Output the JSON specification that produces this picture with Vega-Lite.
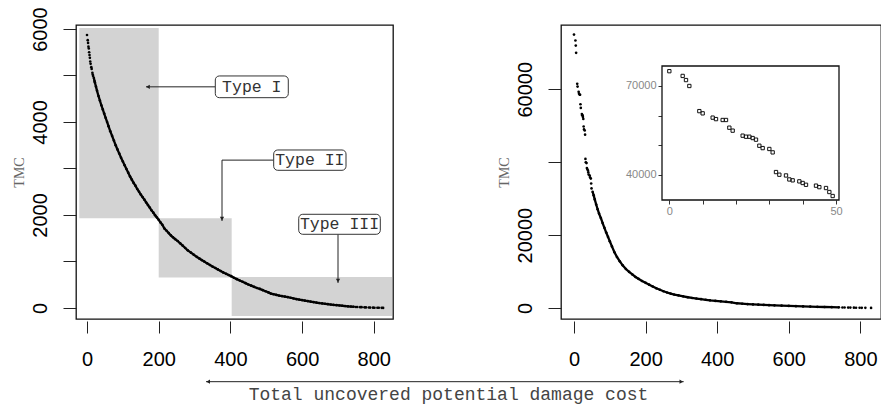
{
  "$schema": "https://vega.github.io/schema/vega-lite/v6.json",
  "background": "white",
  "padding": {"left": 11, "top": 6, "right": 0, "bottom": 0},
  "config": {
    "view": {"stroke": "#111", "strokeWidth": 1.3},
    "axis": {
      "grid": false, "domain": false, "labelFlush": false, "labelOverlap": false,
      "labelFont": "Liberation Sans", "labelFontSize": 20, "labelColor": "#000",
      "tickColor": "#222", "tickWidth": 1,
      "titleFont": "Liberation Serif", "titleFontSize": 14, "titleFontWeight": "normal", "titleColor": "#666"
    }
  },
  "datasets": {
    "left": [
      {"x":0,"y":5870},{"x":2,"y":5760},{"x":3,"y":5700},{"x":4,"y":5620},{"x":5,"y":5580},{"x":6,"y":5500},{"x":7,"y":5440},{"x":8,"y":5380},{"x":9,"y":5300},{"x":10,"y":5250},{"x":12,"y":5180},{"x":13,"y":5140},{"x":15,"y":5060},{"x":16,"y":5020},{"x":17,"y":4990},{"x":19,"y":4950},{"x":21,"y":4880},{"x":22,"y":4850},{"x":25,"y":4760},{"x":28,"y":4670},{"x":32,"y":4560},{"x":36,"y":4460},{"x":40,"y":4360},{"x":44,"y":4270},{"x":48,"y":4180},{"x":52,"y":4090},{"x":56,"y":4000},{"x":60,"y":3910},{"x":65,"y":3800},{"x":70,"y":3700},{"x":75,"y":3600},{"x":80,"y":3500},{"x":85,"y":3410},{"x":90,"y":3320},{"x":95,"y":3230},{"x":100,"y":3150},{"x":105,"y":3070},{"x":110,"y":2990},{"x":115,"y":2910},{"x":120,"y":2830},{"x":125,"y":2760},{"x":130,"y":2690},{"x":135,"y":2630},{"x":140,"y":2560},{"x":145,"y":2500},{"x":150,"y":2440},{"x":155,"y":2385},{"x":160,"y":2330},{"x":165,"y":2270},{"x":170,"y":2215},{"x":175,"y":2160},{"x":180,"y":2100},{"x":185,"y":2050},{"x":190,"y":1995},{"x":195,"y":1945},{"x":200,"y":1895},{"x":205,"y":1840},{"x":210,"y":1790},{"x":216,"y":1710},{"x":222,"y":1660},{"x":228,"y":1610},{"x":234,"y":1560},{"x":240,"y":1520},{"x":246,"y":1480},{"x":253,"y":1440},{"x":260,"y":1390},{"x":267,"y":1340},{"x":274,"y":1290},{"x":281,"y":1240},{"x":290,"y":1190},{"x":298,"y":1145},{"x":306,"y":1100},{"x":314,"y":1060},{"x":320,"y":1030},{"x":327,"y":1000},{"x":335,"y":960},{"x":343,"y":925},{"x":350,"y":890},{"x":358,"y":860},{"x":365,"y":830},{"x":373,"y":795},{"x":380,"y":765},{"x":388,"y":735},{"x":395,"y":710},{"x":402,"y":685},{"x":410,"y":650},{"x":418,"y":620},{"x":426,"y":590},{"x":434,"y":565},{"x":442,"y":535},{"x":450,"y":505},{"x":458,"y":480},{"x":466,"y":455},{"x":474,"y":430},{"x":482,"y":410},{"x":490,"y":385},{"x":498,"y":360},{"x":506,"y":335},{"x":513,"y":310},{"x":520,"y":296},{"x":528,"y":281},{"x":536,"y":267},{"x":544,"y":255},{"x":552,"y":245},{"x":560,"y":235},{"x":568,"y":220},{"x":576,"y":205},{"x":584,"y":192},{"x":592,"y":180},{"x":600,"y":170},{"x":608,"y":158},{"x":616,"y":148},{"x":624,"y":136},{"x":632,"y":126},{"x":640,"y":116},{"x":648,"y":106},{"x":656,"y":98},{"x":664,"y":90},{"x":672,"y":82},{"x":680,"y":74},{"x":688,"y":66},{"x":696,"y":60},{"x":704,"y":54},{"x":712,"y":48},{"x":720,"y":42},{"x":728,"y":36},{"x":736,"y":31},{"x":744,"y":26},{"x":750,"y":22},{"x":754,"y":21},{"x":762,"y":18},{"x":766,"y":17},{"x":774,"y":14},{"x":778,"y":13},{"x":786,"y":10},{"x":790,"y":9},{"x":798,"y":7},{"x":802,"y":6},{"x":810,"y":5},{"x":814,"y":4},{"x":822,"y":3},{"x":826,"y":2}
    ],
    "right": [
      {"x":0,"y":75000},{"x":4,"y":73400},{"x":5,"y":72000},{"x":6,"y":70000},{"x":9,"y":61500},{"x":10,"y":60750},{"x":13,"y":59300},{"x":14,"y":58800},{"x":16,"y":58500},{"x":17,"y":58500},{"x":18,"y":55900},{"x":19,"y":54900},{"x":22,"y":53200},{"x":23,"y":52850},{"x":24,"y":52850},{"x":25,"y":52400},{"x":26,"y":51850},{"x":27,"y":49800},{"x":28,"y":49000},{"x":30,"y":48700},{"x":31,"y":47550},{"x":32,"y":40900},{"x":33,"y":40000},{"x":35,"y":39750},{"x":36,"y":38400},{"x":37,"y":38100},{"x":39,"y":37750},{"x":40,"y":37200},{"x":41,"y":36600},{"x":44,"y":36300},{"x":45,"y":35800},{"x":47,"y":35500},{"x":48,"y":34150},{"x":49,"y":32800},
      {"x":52,"y":31900},{"x":55,"y":30900},{"x":58,"y":29800},{"x":62,"y":28400},{"x":66,"y":27100},{"x":70,"y":25900},{"x":75,"y":24700},{"x":80,"y":23300},{"x":85,"y":22000},{"x":90,"y":20700},{"x":95,"y":19500},{"x":100,"y":18300},{"x":106,"y":16900},{"x":113,"y":15300},{"x":120,"y":14000},{"x":128,"y":12800},{"x":136,"y":11700},{"x":145,"y":10700},{"x":154,"y":9900},{"x":163,"y":9200},{"x":172,"y":8500},{"x":180,"y":8000},{"x":190,"y":7400},{"x":200,"y":6900},{"x":210,"y":6400},{"x":220,"y":5900},{"x":230,"y":5400},{"x":240,"y":5000},{"x":250,"y":4600},{"x":260,"y":4250},{"x":270,"y":3950},{"x":280,"y":3700},{"x":292,"y":3450},{"x":305,"y":3200},{"x":318,"y":2950},{"x":330,"y":2750},{"x":342,"y":2600},{"x":355,"y":2430},{"x":368,"y":2250},{"x":380,"y":2100},{"x":395,"y":1950},{"x":410,"y":1830},{"x":425,"y":1700},{"x":440,"y":1560},{"x":455,"y":1300},{"x":470,"y":1180},{"x":485,"y":1080},{"x":500,"y":990},{"x":515,"y":910},{"x":530,"y":840},{"x":545,"y":780},{"x":560,"y":720},{"x":580,"y":640},{"x":600,"y":570},{"x":620,"y":500},{"x":640,"y":440},{"x":660,"y":380},{"x":680,"y":320},{"x":700,"y":270},{"x":720,"y":220},{"x":740,"y":175},{"x":750,"y":150},{"x":756,"y":140},{"x":766,"y":120},{"x":772,"y":110},{"x":782,"y":90},{"x":788,"y":80},{"x":798,"y":60},{"x":804,"y":50},{"x":814,"y":40},{"x":830,"y":20}
    ],
    "zones": [
      {"x": -21.5, "x2": 200, "y": 1929, "y2": 6022},
      {"x": 200, "x2": 403.6, "y": 655, "y2": 1929},
      {"x": 403.6, "x2": 850.8, "y": -172, "y2": 665}
    ],
    "boxes": [
      {"x": 357.9, "x2": 561.5, "y": 4523, "y2": 4990, "tx": 459.7, "ty": 4756, "label": "Type I"},
      {"x": 520.8, "x2": 722.5, "y": 2961, "y2": 3398, "tx": 621.7, "ty": 3180, "label": "Type II"},
      {"x": 590.6, "x2": 818.2, "y": 1585, "y2": 2015, "tx": 704.4, "ty": 1800, "label": "Type III"}
    ],
    "arrows": [
      {"x": 164.6, "x2": 357.9, "y": 4756, "y2": 4756},
      {"x": 376.6, "x2": 520.8, "y": 3180, "y2": 3180},
      {"x": 376.6, "x2": 376.6, "y": 3180, "y2": 1871},
      {"x": 700.2, "x2": 700.2, "y": 1585, "y2": 538},
      {"x": 332, "x2": 1664.5, "y": -1585, "y2": -1585}
    ],
    "heads": [
      {"x": 170, "y": 4756, "shape": "triangle-left"},
      {"x": 376.6, "y": 1920, "shape": "triangle-down"},
      {"x": 700.2, "y": 590, "shape": "triangle-down"},
      {"x": 338, "y": -1585, "shape": "triangle-left"},
      {"x": 1658, "y": -1585, "shape": "triangle-right"}
    ],
    "caption": [
      {"x": 1008.4, "y": -1978.6, "label": "Total uncovered potential damage cost"}
    ]
  },
  "bounds": "flush",
  "spacing": 168,
  "hconcat": [
    {
      "width": 317,
      "height": 294,
      "layer": [
        {
          "data": {"name": "zones"},
          "mark": {"type": "rect", "color": "#d3d3d3"},
          "encoding": {
            "x": {"field": "x", "type": "quantitative",
                  "scale": {"domain": [-30.7, 853.6], "nice": false, "zero": false},
                  "axis": {"title": null, "values": [0, 200, 400, 600, 800], "format": "d", "tickSize": 12, "offset": 2, "labelPadding": 16, "labelAngle": 0}},
            "x2": {"field": "x2"},
            "y": {"field": "y", "type": "quantitative",
                  "scale": {"domain": [-237, 6086], "nice": false, "zero": false},
                  "axis": {"title": "TMC", "values": [0, 1000, 2000, 3000, 4000, 5000, 6000], "format": "d", "tickSize": 13, "labelAngle": -90, "labelAlign": "center", "labelBaseline": "bottom", "labelPadding": 13, "titlePadding": 4,
                           "labelExpr": "datum.value % 2000 === 0 ? datum.label : ''"}},
            "y2": {"field": "y2"}
          }
        },
        {
          "data": {"name": "left"},
          "transform": [{"filter": "datum.x >= 19 && datum.x <= 744"}],
          "mark": {"type": "line", "color": "#000", "strokeWidth": 2.3},
          "encoding": {"x": {"field": "x", "type": "quantitative"}, "y": {"field": "y", "type": "quantitative"}}
        },
        {
          "data": {"name": "left"},
          "mark": {"type": "circle", "color": "#000", "size": 7, "opacity": 1},
          "encoding": {"x": {"field": "x", "type": "quantitative"}, "y": {"field": "y", "type": "quantitative"}}
        },
        {
          "data": {"name": "arrows"},
          "mark": {"type": "rule", "color": "#222", "strokeWidth": 1},
          "encoding": {"x": {"field": "x", "type": "quantitative"}, "x2": {"field": "x2"}, "y": {"field": "y", "type": "quantitative"}, "y2": {"field": "y2"}}
        },
        {
          "data": {"name": "heads"},
          "mark": {"type": "point", "filled": true, "color": "#222", "size": 18, "opacity": 1},
          "encoding": {"x": {"field": "x", "type": "quantitative"}, "y": {"field": "y", "type": "quantitative"}, "shape": {"field": "shape", "type": "nominal", "scale": null}}
        },
        {
          "data": {"name": "boxes"},
          "mark": {"type": "rect", "fill": "white", "stroke": "#333", "strokeWidth": 1, "cornerRadius": 4},
          "encoding": {"x": {"field": "x", "type": "quantitative"}, "x2": {"field": "x2"}, "y": {"field": "y", "type": "quantitative"}, "y2": {"field": "y2"}}
        },
        {
          "data": {"name": "boxes"},
          "mark": {"type": "text", "font": "Liberation Mono", "fontSize": 16.5, "color": "#333", "align": "center", "baseline": "middle"},
          "encoding": {"x": {"field": "tx", "type": "quantitative"}, "y": {"field": "ty", "type": "quantitative"}, "text": {"field": "label"}}
        },
        {
          "data": {"name": "caption"},
          "mark": {"type": "text", "font": "Liberation Mono", "fontSize": 18, "color": "#444", "align": "center", "baseline": "alphabetic"},
          "encoding": {"x": {"field": "x", "type": "quantitative"}, "y": {"field": "y", "type": "quantitative"}, "text": {"field": "label"}}
        }
      ]
    },
    {
      "width": 320,
      "height": 294,
      "resolve": {"scale": {"x": "independent", "y": "independent"}},
      "layer": [
        {
          "data": {"name": "right"},
          "layer": [
            {
              "transform": [{"filter": "datum.x >= 52 && datum.x <= 745"}],
              "mark": {"type": "line", "color": "#000", "strokeWidth": 2.3},
              "encoding": {
                "x": {"field": "x", "type": "quantitative",
                      "scale": {"domain": [-36.3, 857.7], "nice": false, "zero": false},
                      "axis": {"title": null, "orient": "bottom", "values": [0, 200, 400, 600, 800], "format": "d", "tickSize": 12, "offset": 2, "labelPadding": 16, "labelAngle": 0}},
                "y": {"field": "y", "type": "quantitative",
                      "scale": {"domain": [-3018, 77640], "nice": false, "zero": false},
                      "axis": {"title": "TMC", "orient": "left", "values": [0, 20000, 40000, 60000], "format": "d", "tickSize": 13, "labelAngle": -90, "labelAlign": "center", "labelBaseline": "bottom", "labelPadding": 13, "titlePadding": 4,
                               "labelExpr": "datum.value === 40000 ? '' : datum.label"}}
              }
            },
            {
              "mark": {"type": "circle", "color": "#000", "size": 7, "opacity": 1},
              "encoding": {"x": {"field": "x", "type": "quantitative"}, "y": {"field": "y", "type": "quantitative"}}
            }
          ]
        },
        {
          "layer": [
            {
              "data": {"values": [{}]},
              "mark": {"type": "rect", "fill": "white", "stroke": "#111", "strokeWidth": 1.3},
              "encoding": {
                "x": {"datum": -2.2, "type": "quantitative",
                      "scale": {"domain": [-2.2, 50.9], "range": [101, 278], "nice": false, "zero": false},
                      "axis": {"title": null, "orient": "bottom", "offset": -119, "values": [0, 10, 20, 30, 40, 50], "tickSize": 4, "labelFontSize": 11, "labelColor": "#888", "labelPadding": 1, "labelAngle": 0, "tickColor": "#333",
                               "labelExpr": "datum.value === 0 || datum.value === 50 ? datum.label : ''"}},
                "x2": {"datum": 50.9},
                "y": {"datum": 31450, "type": "quantitative",
                      "scale": {"domain": [31450, 76757], "range": [175, 41], "nice": false, "zero": false},
                      "axis": {"title": null, "orient": "left", "offset": -101, "values": [40000, 50000, 60000, 70000], "format": "d", "tickSize": 4, "labelFontSize": 11, "labelColor": "#888", "labelPadding": 2, "labelAngle": 0, "labelAlign": "right", "labelBaseline": "middle", "tickColor": "#333",
                               "labelExpr": "datum.value === 40000 || datum.value === 70000 ? datum.label : ''"}},
                "y2": {"datum": 76757}
              }
            },
            {
              "data": {"name": "right"},
              "transform": [{"filter": "datum.x <= 49"}],
              "mark": {"type": "point", "shape": "square", "filled": false, "color": "#111", "strokeWidth": 1, "size": 11, "opacity": 1},
              "encoding": {"x": {"field": "x", "type": "quantitative"}, "y": {"field": "y", "type": "quantitative"}}
            }
          ]
        }
      ]
    }
  ]
}
